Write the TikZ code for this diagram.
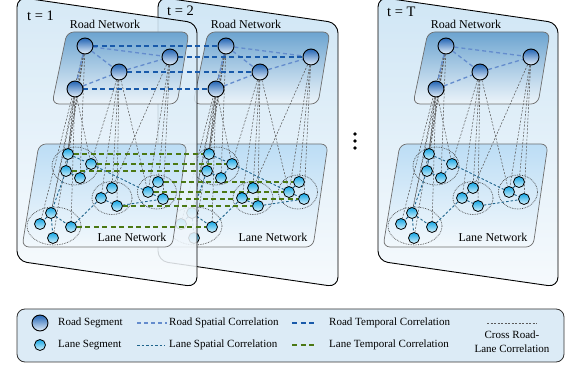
\documentclass[tikz,border=0pt]{standalone}
\usepackage{fontspec}
\setmainfont{Liberation Serif}
\usetikzlibrary{shapes.geometric}
\pgfdeclarelayer{cardsA}
\pgfdeclarelayer{edgesA}
\pgfdeclarelayer{hiddenA}
\pgfdeclarelayer{cardsB}
\pgfdeclarelayer{edgesB}
\pgfdeclarelayer{temporal}
\pgfdeclarelayer{nodesB}
\pgfdeclarelayer{nodesA}
\pgfsetlayers{cardsA,edgesA,hiddenA,cardsB,edgesB,temporal,nodesB,nodesA,main}
\definecolor{cardTop}{RGB}{208,230,245}
\definecolor{cardBot}{RGB}{246,250,253}
\definecolor{rbTop}{RGB}{108,164,208}
\definecolor{rbBot}{RGB}{236,244,250}
\definecolor{lbTop}{RGB}{188,221,245}
\definecolor{lbBot}{RGB}{242,248,252}
\definecolor{boxGray}{RGB}{110,110,110}
\definecolor{rnTop}{RGB}{35,100,180}
\definecolor{rnBot}{RGB}{228,240,250}
\definecolor{lnTop}{RGB}{20,165,228}
\definecolor{lnBot}{RGB}{215,243,253}
\definecolor{rsCol}{RGB}{100,140,205}
\definecolor{rtCol}{RGB}{25,90,170}
\definecolor{lsCol}{RGB}{30,100,140}
\definecolor{ltCol}{RGB}{75,120,20}
\definecolor{crCol}{RGB}{90,90,90}
\definecolor{clusGray}{RGB}{60,60,60}
\definecolor{legFill}{RGB}{220,235,246}
\tikzset{
 roadnode/.style={circle, draw=black, line width=0.9pt, minimum size=16pt, inner sep=0pt, top color=rnTop, bottom color=rnBot},
 lanenode/.style={circle, draw=black, line width=0.8pt, minimum size=11pt, inner sep=0pt, top color=lnTop, bottom color=lnBot},
 roadbox/.style={draw=boxGray, line width=0.7pt, rounded corners=7pt, top color=rbTop, bottom color=rbBot},
 lanebox/.style={draw=boxGray, line width=0.7pt, rounded corners=7pt, top color=lbTop, bottom color=lbBot},
 card/.style={draw=black, line width=0.9pt, rounded corners=10pt, top color=cardTop, bottom color=cardBot},
 lbl/.style={font=\fontsize{12}{14}\selectfont, inner sep=1pt},
 tlbl/.style={font=\fontsize{14.5}{16}\selectfont, inner sep=0pt, anchor=west},
 legtxt/.style={font=\fontsize{11}{13}\selectfont, inner sep=1pt},
 clus/.style={ellipse, draw=clusGray, densely dotted, line width=0.7pt, inner sep=0pt},
 roadsp/.style={draw=rsCol, line width=1.3pt, dash pattern=on 4pt off 3pt},
 roadtemp/.style={draw=rtCol, line width=1.6pt, dash pattern=on 5pt off 3.5pt},
 lanesp/.style={draw=lsCol, line width=0.9pt, dash pattern=on 2.5pt off 2pt},
 lanetemp/.style={draw=ltCol, line width=1.6pt, dash pattern=on 5pt off 3.5pt},
 cross/.style={draw=crCol, line width=0.55pt, dash pattern=on 2pt off 1.5pt},
 dotnode/.style={circle, fill=black, inner sep=0pt, minimum size=3.6pt}
}
\newcommand{\cardshape}[3]{%
\begin{scope}[xshift=#1pt]
\begin{pgfonlayer}{#2}
\path[card,#3] (17,-3) -- (197,23) -- (197,287) -- (17,261) -- cycle;
\end{pgfonlayer}
\end{scope}}
\newcommand{\laneframe}[6]{%
\begin{scope}[xshift=#2pt]
\begin{pgfonlayer}{#3}
\path[roadbox] (67,32) -- (189,32) -- (177,104) -- (52,104) -- cycle;
\path[lanebox] (39,144) -- (187,144) -- (172,247) -- (22,247) -- cycle;
\node[lbl] (#1rn) at (105,24) {Road Network};
\node[lbl] (#1ln) at (132,237) {Lane Network};
\end{pgfonlayer}
\begin{pgfonlayer}{#5}
\node[roadnode] (#1A) at (85,46) {};
\node[roadnode] (#1B) at (170,57) {};
\node[roadnode] (#1C) at (119,72) {};
\node[roadnode] (#1D) at (75,89) {};
\node[lanenode] (#1c1a) at (68,154) {};
\node[lanenode] (#1c1b) at (91,164) {};
\node[lanenode] (#1c1c) at (66,171) {};
\node[lanenode] (#1c1d) at (80,178) {};
\node[lanenode] (#1c2a) at (112,188) {};
\node[lanenode] (#1c2b) at (101,198) {};
\node[lanenode] (#1c2c) at (117,206) {};
\node[lanenode] (#1c3a) at (158,182) {};
\node[lanenode] (#1c3b) at (148,192) {};
\node[lanenode] (#1c3c) at (163,199) {};
\end{pgfonlayer}
\begin{pgfonlayer}{#6}
\node[lanenode] (#1c4a) at (51,213) {};
\node[lanenode] (#1c4b) at (40,224) {};
\node[lanenode] (#1c4c) at (71,227) {};
\node[lanenode] (#1c4d) at (53,238) {};
\end{pgfonlayer}
\begin{pgfonlayer}{#4}
\node[clus, minimum width=46pt, minimum height=38pt] (#1e1) at (75,166) {};
\node[clus, minimum width=40pt, minimum height=33pt] (#1e2) at (112,198) {};
\node[clus, minimum width=39pt, minimum height=34pt] (#1e3) at (157,192) {};
\node[clus, minimum width=54pt, minimum height=38pt] (#1e4) at (54,226) {};
\foreach \nn in {c1a,c1c,c1d,c4a,c4b,c4d}{\draw[cross] (#1A) -- (#1\nn);}
\foreach \nn in {c1a,c1b,c1c,c4a,c4c}{\draw[cross] (#1D) -- (#1\nn);}
\foreach \nn in {c2a,c2b,c2c,c1b,c3b}{\draw[cross] (#1C) -- (#1\nn);}
\foreach \nn in {c3a,c3b,c3c,c2a}{\draw[cross] (#1B) -- (#1\nn);}
\draw[roadsp] (#1A) -- (#1B);
\draw[roadsp] (#1A) -- (#1C);
\draw[roadsp] (#1C) -- (#1B);
\draw[roadsp] (#1A) -- (#1D);
\draw[roadsp] (#1D) -- (#1C);
\draw[lanesp] (#1c1a) -- (#1c1b);
\draw[lanesp] (#1c1a) -- (#1c1c);
\draw[lanesp] (#1c1c) -- (#1c1d);
\draw[lanesp] (#1c1d) -- (#1c1b);
\draw[lanesp] (#1c1b) -- (#1c3b);
\draw[lanesp] (#1c1c) -- (#1c4a);
\draw[lanesp] (#1c4c) -- (#1c2b);
\draw[lanesp] (#1c2c) -- (#1c3c);
\draw[lanesp] (#1c2a) -- (#1c2b);
\draw[lanesp] (#1c2b) -- (#1c2c);
\draw[lanesp] (#1c3a) -- (#1c3b);
\draw[lanesp] (#1c3b) -- (#1c3c);
\draw[lanesp] (#1c4a) -- (#1c4b);
\draw[lanesp] (#1c4a) -- (#1c4c);
\draw[lanesp] (#1c4a) -- (#1c4d);
\end{pgfonlayer}
\end{scope}}
\begin{document}
\begin{tikzpicture}[x=1pt,y=-1pt]
\useasboundingbox (0,0) rectangle (571,366);
% frame 2 (behind)
\cardshape{141}{cardsA}{}
\begin{pgfonlayer}{cardsA}
\node[tlbl] (t2) at (167,11) {t = 2};
\end{pgfonlayer}
\laneframe{g}{141}{cardsA}{edgesA}{nodesA}{hiddenA}
% frame 1 (front, translucent)
\cardshape{0}{cardsB}{fill opacity=0.86}
\begin{pgfonlayer}{cardsB}
\node[tlbl] (t1) at (27,16) {t = 1};
\end{pgfonlayer}
\laneframe{f}{0}{cardsB}{edgesB}{nodesB}{nodesB}
% frame T
\cardshape{361}{cardsB}{}
\begin{pgfonlayer}{cardsB}
\node[tlbl] (tT) at (387,12) {t = T};
\end{pgfonlayer}
\laneframe{h}{361}{cardsB}{edgesB}{nodesB}{nodesB}
% temporal correlations
\begin{pgfonlayer}{temporal}
\foreach \nn in {A,B,C,D}{\draw[roadtemp] (f\nn) -- (g\nn);}
\foreach \nn in {c1a,c1b,c1c,c3a,c3b,c3c,c2c,c4c}{\draw[lanetemp] (f\nn) -- (g\nn);}
\end{pgfonlayer}
% dots
\node[dotnode] (d1) at (355,134) {};
\node[dotnode] (d2) at (355,141) {};
\node[dotnode] (d3) at (355,148) {};
% legend
\draw[draw=black!80, fill=legFill, line width=0.8pt, rounded corners=8pt] (17,309) rectangle (564,362);
\node[roadnode] (lgr) at (40,323) {};
\node[lanenode] (lgl) at (40,345) {};
\node[legtxt, anchor=west] (lgrt) at (57,323) {Road Segment};
\node[legtxt, anchor=west] (lglt) at (57,345) {Lane Segment};
\coordinate (rs1) at (137,323); \coordinate (rs2) at (167,323);
\draw[roadsp] (rs1) -- (rs2);
\node[legtxt, anchor=west] (rst) at (168,323) {Road Spatial Correlation};
\coordinate (ls1) at (137,345); \coordinate (ls2) at (165,345);
\draw[lanesp] (ls1) -- (ls2);
\node[legtxt, anchor=west] (lst) at (168,345) {Lane Spatial Correlation};
\coordinate (rt1) at (292,323); \coordinate (rt2) at (316,323);
\draw[roadtemp] (rt1) -- (rt2);
\node[legtxt, anchor=west] (rtt) at (328,323) {Road Temporal Correlation};
\coordinate (lt1) at (292,345); \coordinate (lt2) at (316,345);
\draw[lanetemp] (lt1) -- (lt2);
\node[legtxt, anchor=west] (ltt) at (328,345) {Lane Temporal Correlation};
\coordinate (cr1) at (487,323); \coordinate (cr2) at (537,323);
\draw[cross] (cr1) -- (cr2);
\node[legtxt] (crt1) at (512,335) {Cross Road-};
\node[legtxt] (crt2) at (512,349) {Lane Correlation};
\end{tikzpicture}
\end{document}
